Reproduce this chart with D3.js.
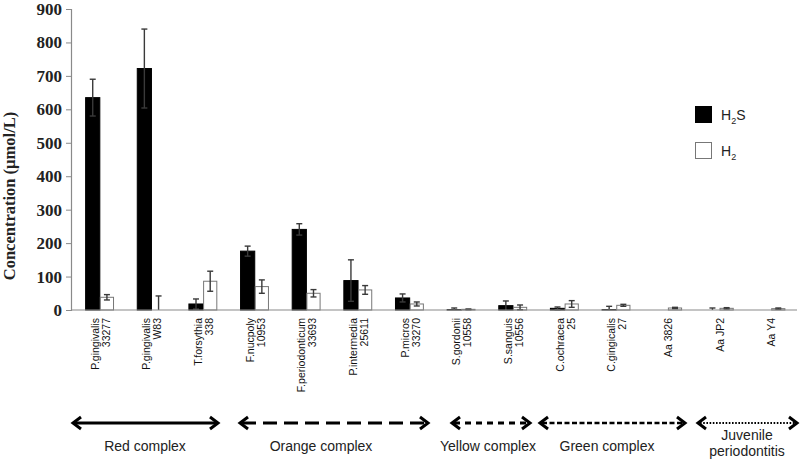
<!DOCTYPE html>
<html>
<head>
<meta charset="utf-8">
<script src="https://cdn.jsdelivr.net/npm/d3@7/dist/d3.min.js"></script>
<style>
  html, body { margin: 0; padding: 0; background: #fff; }
  svg { display: block; }
</style>
</head>
<body>
<svg id="chart" width="800" height="465"></svg>
<script>
// ---- data ----
const labelLine1 = ["P.gingivalis", "P.gingivalis", "T.forsythia", "F.nucpoly", "F.periodonticum", "P.intermedia", "P.micros", "S.gordonii", "S.sanguis", "C.ochracea", "C.gingicalis", "Aa 3826", "Aa JP2", "Aa Y4"];
const labelLine2 = ["33277", "W83", "338", "10953", "33693", "25611", "33270", "10558", "10556", "25", "27", "", "", ""];
const h2sValues = [635, 722, 18, 176, 241, 88, 36, 1, 13, 5, 1, 0, 0, 0];
const h2sErrors = [55, 118, 15, 15, 17, 62, 12, 5, 14, 4, 10, 0, 6, 0];
const h2Values  = [38, 0, 86, 70, 50, 60, 18, 2, 8, 18, 14, 6, 5, 4];
const h2Errors  = [8, 42, 30, 20, 11, 13, 6, 1, 7, 10, 3, 2, 2, 2];
const seriesNames = ["H2S", "H2"];
const yTicks = [0, 100, 200, 300, 400, 500, 600, 700, 800, 900];
const complexNames = ["Red complex", "Orange complex", "Yellow complex", "Green complex", "Juvenile periodontitis"];

// ---- layout ----
const svg = d3.select("#chart");
const x0 = d3.scaleBand().domain(d3.range(labelLine1.length)).range([74, 797]).paddingInner(0.45).paddingOuter(0.225);
const x1 = d3.scaleBand().domain(seriesNames).range([0, x0.bandwidth()]);
const y = d3.scaleLinear().domain([0, 900]).range([310, 9]);

const rows = labelLine1.map((d, i) => ({
  i,
  vals: [
    { s: "H2S", v: h2sValues[i], e: h2sErrors[i] },
    { s: "H2", v: h2Values[i], e: h2Errors[i] }
  ]
}));

// y axis
const yAxis = d3.axisLeft(y).tickValues(yTicks).tickSize(5).tickPadding(4);
const gy = svg.append("g").attr("transform", "translate(71,0)").call(yAxis);
gy.select(".domain").attr("stroke", "#8a8a8a").attr("stroke-width", 1.2);
gy.selectAll(".tick line").attr("stroke", "#8a8a8a");
gy.selectAll(".tick text")
  .attr("font-family", "'Liberation Serif', 'Times New Roman', serif")
  .attr("font-weight", "bold").attr("font-size", 17).attr("fill", "#222");

svg.append("text")
  .attr("transform", "translate(15,196) rotate(-90)")
  .attr("text-anchor", "middle")
  .attr("font-family", "'Liberation Serif', 'Times New Roman', serif")
  .attr("font-weight", "bold").attr("font-size", 16.5).attr("fill", "#222")
  .text("Concentration (µmol/L)");

// bars
const groups = svg.append("g").selectAll("g").data(rows).join("g")
  .attr("transform", d => `translate(${x0(d.i)},0)`);

groups.selectAll("rect").data(d => d.vals).join("rect")
  .attr("x", d => x1(d.s) + (d.s === "H2" ? 0.5 : 0))
  .attr("width", d => x1.bandwidth() - (d.s === "H2" ? 1 : 0))
  .attr("y", d => y(d.v))
  .attr("height", d => y(0) - y(d.v))
  .attr("fill", d => d.s === "H2S" ? "#000" : "#fff")
  .attr("stroke", d => d.s === "H2S" ? "#000" : "#777")
  .attr("stroke-width", 1);

// error bars
const eb = groups.selectAll("g.err").data(d => d.vals.filter(v => v.e > 0)).join("g").attr("class", "err");
eb.append("line")
  .attr("x1", d => x1(d.s) + x1.bandwidth() / 2).attr("x2", d => x1(d.s) + x1.bandwidth() / 2)
  .attr("y1", d => y(Math.max(0, d.v - d.e))).attr("y2", d => y(d.v + d.e))
  .attr("stroke", "#3a3a3a").attr("stroke-width", 1.4);
eb.append("line")
  .attr("x1", d => x1(d.s) + x1.bandwidth() / 2 - 3).attr("x2", d => x1(d.s) + x1.bandwidth() / 2 + 3)
  .attr("y1", d => y(d.v + d.e)).attr("y2", d => y(d.v + d.e))
  .attr("stroke", "#3a3a3a").attr("stroke-width", 1.4);
eb.filter(d => d.v - d.e > 0).append("line")
  .attr("x1", d => x1(d.s) + x1.bandwidth() / 2 - 3).attr("x2", d => x1(d.s) + x1.bandwidth() / 2 + 3)
  .attr("y1", d => y(d.v - d.e)).attr("y2", d => y(d.v - d.e))
  .attr("stroke", "#3a3a3a").attr("stroke-width", 1.4);

// x axis line
svg.append("line").attr("x1", 71).attr("x2", 797).attr("y1", y(0)).attr("y2", y(0))
  .attr("stroke", "#8a8a8a").attr("stroke-width", 1.2);

// category labels: vertical, two columns per category
const labG = svg.append("g")
  .attr("font-family", "'Liberation Sans', Arial, sans-serif")
  .attr("font-size", 10.5).attr("fill", "#111");
rows.forEach(d => {
  const cx = x0(d.i) + x1("H2");
  const top = 318;
  const twoLines = !!labelLine2[d.i];
  labG.append("text").attr("text-anchor", "end")
    .attr("transform", `translate(${twoLines ? cx - 1 : cx + 4},${top}) rotate(-90)`)
    .text(labelLine1[d.i]);
  if (twoLines) {
    labG.append("text").attr("text-anchor", "end")
      .attr("transform", `translate(${cx + 10},${top}) rotate(-90)`)
      .text(labelLine2[d.i]);
  }
});

// legend
const legend = svg.append("g").attr("font-family", "'Liberation Sans', Arial, sans-serif").attr("font-size", 14).attr("fill", "#222");
legend.append("rect").attr("x", 695).attr("y", 106).attr("width", 17).attr("height", 17).attr("fill", "#000");
legend.append("rect").attr("x", 695.5).attr("y", 142.5).attr("width", 16).attr("height", 16).attr("fill", "#fff").attr("stroke", "#777");
const t1 = legend.append("text").attr("x", 721).attr("y", 120);
t1.append("tspan").text("H");
t1.append("tspan").attr("font-size", 9).attr("dy", 4).text("2");
t1.append("tspan").attr("dy", -4).text("S");
const t2 = legend.append("text").attr("x", 721).attr("y", 156);
t2.append("tspan").text("H");
t2.append("tspan").attr("font-size", 9).attr("dy", 4).text("2");

// complex arrows
const arrowX1 = [73, 240, 452, 540, 698];
const arrowX2 = [218, 428, 530, 685, 797];
const dashes = [null, "14,7", "6,5", "5,2.5", "1.6,1.6"];
const widths = [3, 3, 3, 2.6, 2.2];
const ay = 423;
const ag = svg.append("g");
complexNames.forEach((name, k) => {
  const xa = arrowX1[k], xb = arrowX2[k];
  ag.append("line").attr("x1", xa + 2).attr("x2", xb - 2).attr("y1", ay).attr("y2", ay)
    .attr("stroke", "#000").attr("stroke-width", widths[k])
    .attr("stroke-dasharray", dashes[k]);
  ag.append("path").attr("d", `M${xa + 8},${ay - 6} L${xa},${ay} L${xa + 8},${ay + 6}`)
    .attr("fill", "none").attr("stroke", "#000").attr("stroke-width", 3).attr("stroke-linejoin", "miter");
  ag.append("path").attr("d", `M${xb - 8},${ay - 6} L${xb},${ay} L${xb - 8},${ay + 6}`)
    .attr("fill", "none").attr("stroke", "#000").attr("stroke-width", 3).attr("stroke-linejoin", "miter");
});
const complexCx = [145, 321, 488, 607, 747];
const ct = svg.append("g").attr("font-family", "'Liberation Sans', Arial, sans-serif").attr("font-size", 14).attr("fill", "#222").attr("text-anchor", "middle");
complexNames.forEach((name, k) => {
  if (name === "Juvenile periodontitis") {
    ct.append("text").attr("x", complexCx[k]).attr("y", 440).text("Juvenile");
    ct.append("text").attr("x", complexCx[k]).attr("y", 456).text("periodontitis");
  } else {
    ct.append("text").attr("x", complexCx[k]).attr("y", 451).text(name);
  }
});
</script>
</body>
</html>
